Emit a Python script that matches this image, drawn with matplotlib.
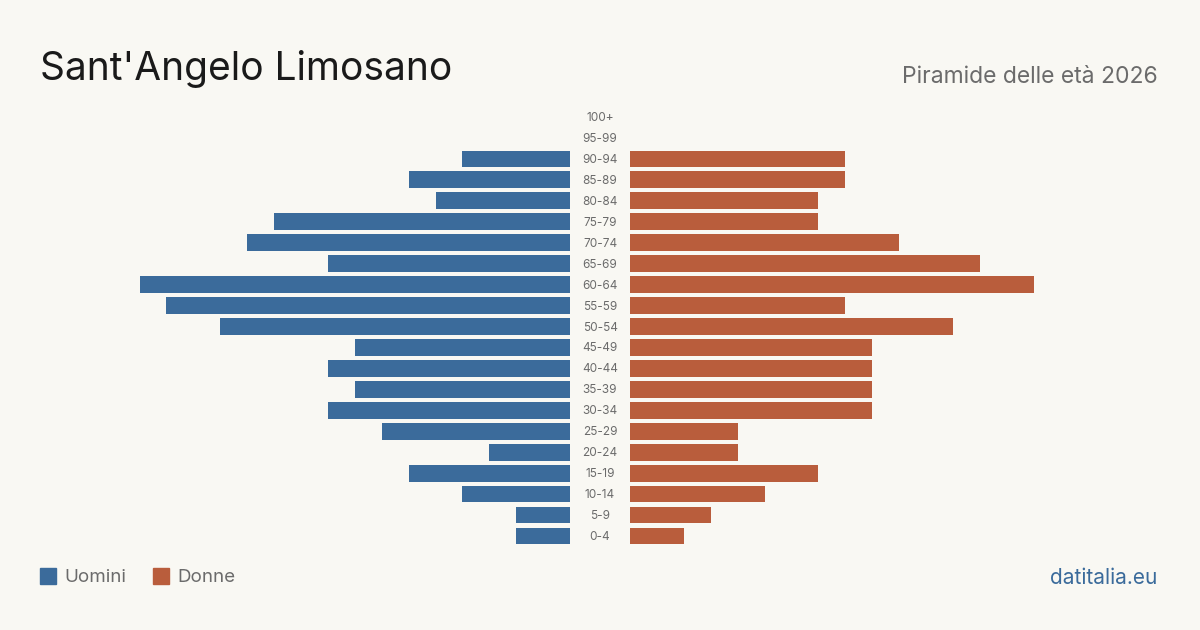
import matplotlib.pyplot as plt
import matplotlib.transforms as mtransforms

# dati: piramide delle età
eta = ["0-4", "5-9", "10-14", "15-19", "20-24", "25-29", "30-34", "35-39",
       "40-44", "45-49", "50-54", "55-59", "60-64", "65-69", "70-74", "75-79",
       "80-84", "85-89", "90-94", "95-99", "100+"]
uomini = [2, 2, 4, 6, 3, 7, 9, 8, 9, 8, 13, 15, 16, 9, 12, 11, 5, 6, 4, 0, 0]
donne = [2, 3, 5, 7, 4, 4, 9, 9, 9, 9, 12, 8, 15, 13, 10, 7, 7, 8, 8, 0, 0]

bg = "#f9f8f3"
blu = "#3b6b9b"
rosso = "#b95d3c"
grigio = "#6b6b6b"
plt.rcParams['font.family'] = ['Inter', 'DejaVu Sans']

W, H = 1200, 630
fig = plt.figure(figsize=(12, 6.3), dpi=100, facecolor=bg)

# assi in pixel
top_row, bot_row = 117, 536
step = (bot_row - top_row) / 20
y0 = H - (bot_row + step / 2)
h = 21 * step
ax_l = fig.add_axes([40 / W, y0 / H, 530 / W, h / H])
ax_r = fig.add_axes([630 / W, y0 / H, 530 / W, h / H])

xmax = 530 / 26.9
y = list(range(len(eta)))
ax_l.barh(y, uomini, height=0.8, color=blu)
ax_r.barh(y, donne, height=0.8, color=rosso)
ax_l.set_xlim(xmax, 0)
ax_r.set_xlim(0, xmax)
for ax in (ax_l, ax_r):
    ax.set_ylim(-0.5, len(eta) - 0.5)
    ax.axis("off")

# etichette delle classi di età al centro
trans = mtransforms.blended_transform_factory(ax_l.transAxes, ax_l.transData)
for i, lab in enumerate(eta):
    ax_l.text(1 + 30 / 530, i - 0.05, lab, transform=trans, ha="center",
              va="center", fontsize=8.5, color=grigio)

# titoli
fig.text(40 / W, 1 - 69 / H, "Sant'Angelo Limosano", fontsize=28,
         color="#1a1a1a", ha="left", va="center")
fig.text(1158 / W, 1 - 77 / H, "Piramide delle età 2026", fontsize=16.5,
         color=grigio, ha="right", va="center")

# legenda
fig.patches.append(plt.Rectangle((40 / W, 1 - 584 / H), 16 / W, 16 / H,
                                 transform=fig.transFigure, color=blu))
fig.text(64 / W, 1 - 577.5 / H, "Uomini", fontsize=13.5, color=grigio, va="center")
fig.patches.append(plt.Rectangle((153 / W, 1 - 584 / H), 16 / W, 16 / H,
                                 transform=fig.transFigure, color=rosso))
fig.text(177 / W, 1 - 577.5 / H, "Donne", fontsize=13.5, color=grigio, va="center")

fig.text(1157 / W, 1 - 577.5 / H, "datitalia.eu", fontsize=15, color=blu,
         ha="right", va="center")

fig.savefig("out.png", dpi=100, facecolor=bg)
